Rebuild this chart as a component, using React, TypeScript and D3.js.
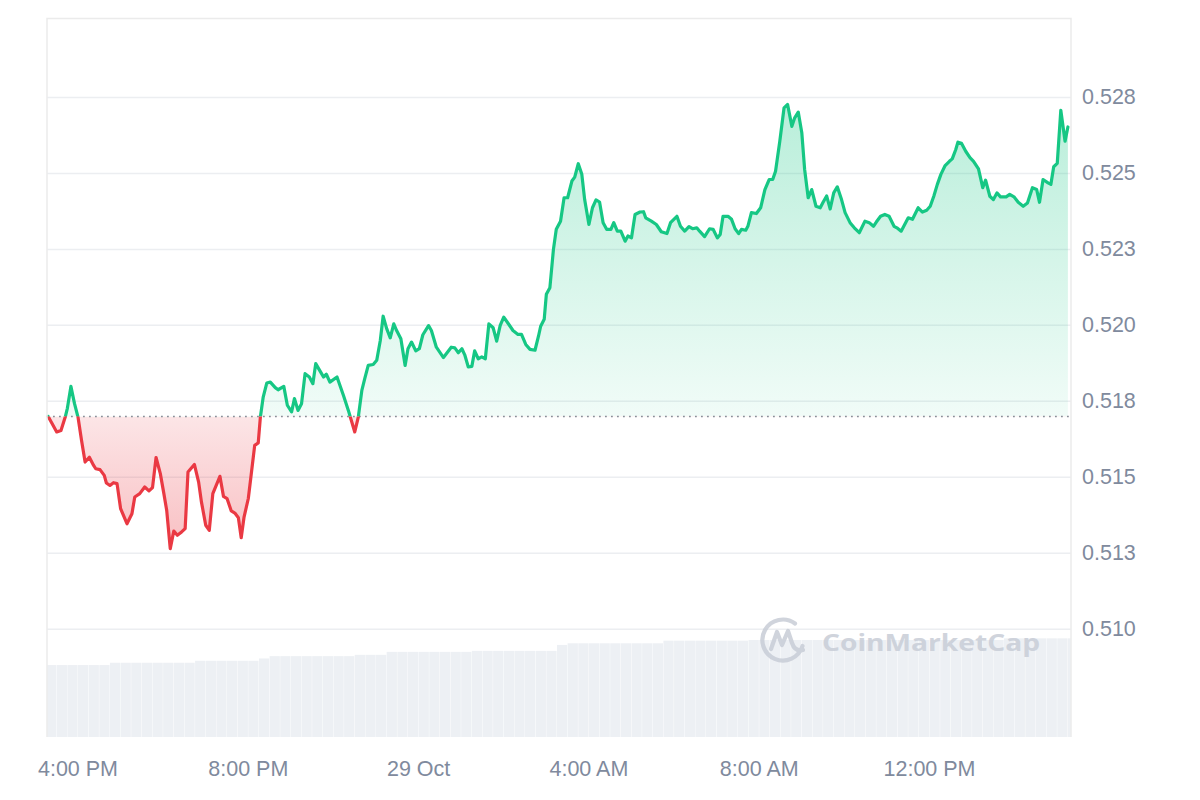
import React from "react";
import * as d3 from "d3";

// ---- data ----
const BASE_TIME = new Date(2024, 9, 28, 16, 0, 0); // 28 Oct, 4:00 PM
const minutesFrom4pm = [
  -42,-30,-24,-18,-15,-10,-5,0,5,10,
  16,22,25,31,37,40,45,50,55,60,
  69,76,80,87,94,100,105,110,116,121,
  125,130,135,140,146,151,155,164,170,174,
  180,185,190,200,205,210,216,221,226,230,
  234,240,249,254,257,261,266,271,278,282,
  290,295,301,305,310,315,320,326,331,335,
  342,346,350,355,365,374,381,390,395,400,
  404,409,416,421,426,430,435,440,445,449,
  455,461,465,470,476,481,486,494,498,505,
  515,526,531,536,541,545,550,555,559,564,
  569,574,579,585,590,595,600,606,613,620,
  625,631,637,644,649,652,657,660,665,670,
  674,680,685,690,696,700,705,710,714,720,
  725,730,735,740,745,751,755,760,765,771,
  775,780,785,792,797,800,808,815,822,830,
  835,844,849,855,861,866,872,876,883,890,
  895,901,905,909,916,921,926,931,935,941,
  944,949,956,962,968,974,979,983,989,995,
  1000,1006,1010,1015,1020,1024,1029,1034,1040,1046,
  1050,1055,1060,1065,1070,1076,1081,1088,1094,1101,
  1109,1115,1121,1125,1131,1137,1143,1150,1154,1160,
  1165,1170,1176,1184,1190,1196,1201,1206,1211,1216,
  1222,1228,1232,1237,1240,1245,1251,1257,1262,1269,
  1275,1279,1285,1290,1295,1300,1308,1313,1319,1325,
  1332,1338,1345,1351,1355,1360,1367,1371,1375,1380,
  1385,1391,1395,
];
const prices = [
  0.51700,0.51649,0.51654,0.51698,0.51727,0.51799,0.51743,0.51698,0.51621,0.51550,
  0.51566,0.51539,0.51528,0.51525,0.51506,0.51481,0.51473,0.51482,0.51479,0.51397,
  0.51347,0.51380,0.51435,0.51446,0.51468,0.51455,0.51466,0.51565,0.51512,0.51446,
  0.51391,0.51265,0.51323,0.51309,0.51320,0.51331,0.51517,0.51542,0.51484,0.51418,
  0.51342,0.51325,0.51446,0.51503,0.51437,0.51430,0.51389,0.51382,0.51367,0.51301,
  0.51369,0.51430,0.51605,0.51613,0.51698,0.51764,0.51810,0.51813,0.51795,0.51788,
  0.51799,0.51737,0.51715,0.51759,0.51720,0.51742,0.51841,0.51830,0.51808,0.51874,
  0.51846,0.51830,0.51839,0.51813,0.51830,0.51770,0.51720,0.51649,0.51698,0.51786,
  0.51824,0.51868,0.51871,0.51885,0.51950,0.52030,0.51989,0.51959,0.52005,0.51983,
  0.51956,0.51868,0.51923,0.51945,0.51916,0.51923,0.51969,0.51999,0.51983,0.51928,
  0.51894,0.51928,0.51926,0.51910,0.51923,0.51903,0.51863,0.51865,0.51916,0.51890,
  0.51896,0.51890,0.52005,0.51992,0.51948,0.52000,0.52027,0.52007,0.51983,0.51970,
  0.51970,0.51937,0.51921,0.51918,0.51965,0.51997,0.52020,0.52102,0.52124,0.52250,
  0.52316,0.52343,0.52420,0.52420,0.52475,0.52488,0.52532,0.52497,0.52414,0.52332,
  0.52387,0.52413,0.52406,0.52338,0.52316,0.52316,0.52338,0.52310,0.52310,0.52277,
  0.52294,0.52288,0.52365,0.52373,0.52374,0.52354,0.52343,0.52332,0.52308,0.52302,
  0.52338,0.52359,0.52326,0.52310,0.52325,0.52318,0.52321,0.52310,0.52292,0.52318,
  0.52316,0.52288,0.52299,0.52359,0.52359,0.52349,0.52318,0.52302,0.52316,0.52313,
  0.52326,0.52371,0.52368,0.52387,0.52447,0.52480,0.52480,0.52507,0.52606,0.52716,
  0.52727,0.52655,0.52683,0.52702,0.52634,0.52513,0.52420,0.52447,0.52392,0.52387,
  0.52405,0.52426,0.52383,0.52436,0.52456,0.52414,0.52371,0.52338,0.52321,0.52305,
  0.52343,0.52338,0.52326,0.52340,0.52359,0.52365,0.52359,0.52326,0.52321,0.52310,
  0.52332,0.52354,0.52349,0.52387,0.52373,0.52379,0.52392,0.52425,0.52464,0.52497,
  0.52526,0.52540,0.52548,0.52579,0.52603,0.52599,0.52573,0.52552,0.52540,0.52515,
  0.52453,0.52478,0.52425,0.52414,0.52436,0.52423,0.52423,0.52431,0.52423,0.52405,
  0.52392,0.52403,0.52453,0.52447,0.52405,0.52480,0.52469,0.52464,0.52522,0.52533,
  0.52708,0.52606,0.52653,
];
const referencePrice = 0.517;

// volume bars, one per 15 minutes starting at 3:15 PM (arbitrary units)
const volumeStartMinute = -45;
const volumeStepMinutes = 15;
const volumes = [
  218,218,218,218,218,218,
  225,225,225,225,225,225,225,225,
  231,231,231,231,231,231,
  238,
  245,245,245,245,245,245,245,245,
  249,249,249,
  258,258,258,258,258,258,258,258,
  261,261,261,261,261,261,261,261,
  279,
  284,284,284,284,284,284,284,284,284,
  292,292,292,292,292,292,292,292,
  294,294,294,294,294,294,294,294,294,294,294,294,294,294,294,294,294,294,294,294,294,294,294,294,
  299,299,299,299,299,299,299,
];

const priceTicks = [0.51, 0.5125, 0.515, 0.5175, 0.52, 0.5225, 0.525, 0.5275];
const priceTickLabels = ["0.510", "0.513", "0.515", "0.518", "0.520", "0.523", "0.525", "0.528"];
const timeTickMinutes = [0, 240, 480, 720, 960, 1200];
const timeTickLabels = ["4:00 PM", "8:00 PM", "29 Oct", "4:00 AM", "8:00 AM", "12:00 PM"];

// ---- layout ----
const W = 1200;
const H = 800;
const PLOT_L = 47;
const PLOT_R = 1071;
const PLOT_T = 18.5;
const PLOT_B = 737;
const GREEN = "#16c784";
const RED = "#ea3943";
const TEXT = "#808a9d";
const FONT = "'Liberation Sans', Arial, Helvetica, sans-serif";

const toDate = (m: number) => new Date(BASE_TIME.getTime() + m * 60000);

export default function App() {
  const n = Math.min(minutesFrom4pm.length, prices.length);
  const data = d3.range(n).map((i) => ({ t: toDate(minutesFrom4pm[i]), p: prices[i] }));

  const x = d3
    .scaleTime()
    .domain([data[0].t, data[n - 1].t])
    .range([48.2, 1067.9]);
  const y = d3.scaleLinear().domain([0.50645, 0.5301]).range([PLOT_B, PLOT_T]);
  const yVol = d3.scaleLinear().domain([0, 300]).range([PLOT_B, 638]);

  const baseY = y(referencePrice);
  const maxY = y(d3.max(prices)!);
  const minY = y(d3.min(prices)!);

  const line = d3
    .line<{ t: Date; p: number }>()
    .x((d) => x(d.t))
    .y((d) => y(d.p))
    .curve(d3.curveLinear);
  const area = d3
    .area<{ t: Date; p: number }>()
    .x((d) => x(d.t))
    .y0(baseY)
    .y1((d) => y(d.p))
    .curve(d3.curveLinear);

  const linePath = line(data) || "";
  const areaPath = area(data) || "";

  const bars = volumes.map((v, i) => {
    const t0 = toDate(volumeStartMinute + i * volumeStepMinutes);
    const t1 = toDate(volumeStartMinute + (i + 1) * volumeStepMinutes);
    return { x0: x(t0), x1: x(t1), v };
  });

  return (
    <svg
      width={W}
      height={H}
      viewBox={`0 0 ${W} ${H}`}
      style={{ position: "absolute", left: 0, top: 0, background: "#ffffff" }}
    >
      <defs>
        <clipPath id="plotClip">
          <rect x={PLOT_L} y={PLOT_T} width={PLOT_R - PLOT_L} height={PLOT_B - PLOT_T} />
        </clipPath>
        <clipPath id="aboveClip">
          <rect x={0} y={0} width={W} height={baseY} />
        </clipPath>
        <clipPath id="belowClip">
          <rect x={0} y={baseY} width={W} height={H - baseY} />
        </clipPath>
        <linearGradient id="greenGrad" gradientUnits="userSpaceOnUse" x1={0} x2={0} y1={maxY} y2={baseY}>
          <stop offset="0" stopColor={GREEN} stopOpacity={0.3} />
          <stop offset="1" stopColor={GREEN} stopOpacity={0.06} />
        </linearGradient>
        <linearGradient id="redGrad" gradientUnits="userSpaceOnUse" x1={0} x2={0} y1={baseY} y2={minY}>
          <stop offset="0" stopColor={RED} stopOpacity={0.13} />
          <stop offset="1" stopColor={RED} stopOpacity={0.32} />
        </linearGradient>
      </defs>

      {/* grid lines */}
      {priceTicks.map((v, i) => (
        <line
          key={"g" + i}
          x1={PLOT_L}
          x2={PLOT_R}
          y1={y(v)}
          y2={y(v)}
          stroke="#eceef1"
          strokeWidth={1.5}
        />
      ))}

      {/* volume bars */}
      <g clipPath="url(#plotClip)">
        {bars.map((b, i) => (
          <rect
            key={"v" + i}
            x={b.x0}
            y={yVol(b.v)}
            width={Math.max(0, b.x1 - b.x0 - 0.4)}
            height={PLOT_B - yVol(b.v)}
            fill="#edf0f4"
          />
        ))}
      </g>

      {/* watermark */}
      <g opacity={0.85}>
        <g transform="translate(783,640)" fill="none" stroke="#c8cdd7" strokeWidth={4.2} strokeLinecap="round" strokeLinejoin="round">
          <path d="M 19.5 6 A 20.5 20.5 0 1 1 12 -16.5" />
          <path d="M -12 9 L -6 -8 L -1 5 L 5 -9 L 9 3 Q 12 12 20 10" />
        </g>
        <text
          x={822}
          y={651}
          fontFamily="'Open Sans', 'Liberation Sans', Arial, sans-serif"
          fontWeight={700}
          fontSize={24}
          fill="#c8cdd7"
          textLength={218}
          lengthAdjust="spacingAndGlyphs"
        >
          CoinMarketCap
        </text>
      </g>

      {/* price area */}
      <g clipPath="url(#plotClip)">
        <path d={areaPath} fill="url(#greenGrad)" clipPath="url(#aboveClip)" />
        <path d={areaPath} fill="url(#redGrad)" clipPath="url(#belowClip)" />
      </g>

      {/* reference dotted line */}
      <line
        x1={PLOT_L}
        x2={PLOT_R}
        y1={baseY}
        y2={baseY}
        stroke="#8a8f99"
        strokeWidth={1.6}
        strokeDasharray="1.8 4.2"
      />

      {/* price line */}
      <path
        d={linePath}
        fill="none"
        stroke={GREEN}
        strokeWidth={3.2}
        strokeLinejoin="round"
        strokeLinecap="round"
        clipPath="url(#aboveClip)"
      />
      <path
        d={linePath}
        fill="none"
        stroke={RED}
        strokeWidth={3.2}
        strokeLinejoin="round"
        strokeLinecap="round"
        clipPath="url(#belowClip)"
      />

      {/* plot border */}
      <path
        d={`M${PLOT_L},${PLOT_B} L${PLOT_L},${PLOT_T} L${PLOT_R},${PLOT_T} L${PLOT_R},${PLOT_B}`}
        fill="none"
        stroke="#ebebeb"
        strokeWidth={1.5}
      />

      {/* y axis labels */}
      {priceTicks.map((v, i) => (
        <text
          key={"yl" + i}
          x={1082}
          y={y(v) + 7}
          fontFamily={FONT}
          fontSize={21.5}
          fill={TEXT}
        >
          {priceTickLabels[i]}
        </text>
      ))}

      {/* x axis labels */}
      {timeTickMinutes.map((m, i) => (
        <text
          key={"xl" + i}
          x={x(toDate(m))}
          y={776}
          textAnchor="middle"
          fontFamily={FONT}
          fontSize={21.5}
          fill={TEXT}
        >
          {timeTickLabels[i]}
        </text>
      ))}
    </svg>
  );
}
